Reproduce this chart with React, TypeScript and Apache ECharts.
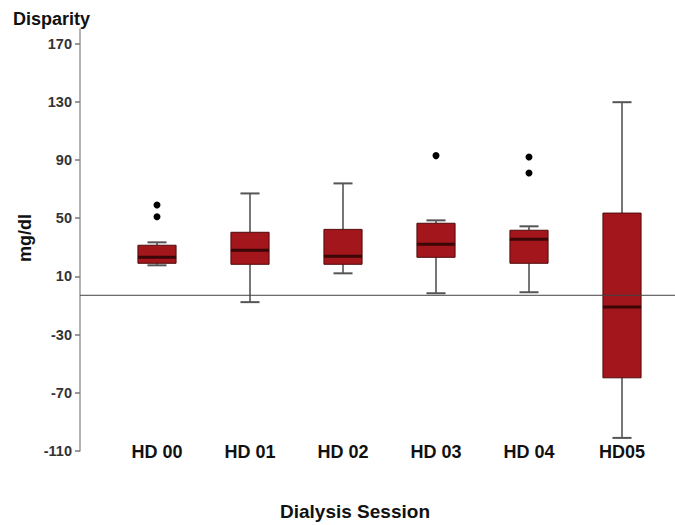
import React, { useEffect, useRef } from "react";
import * as echarts from "echarts";

const categories = ["HD 00", "HD 01", "HD 02", "HD 03", "HD 04", "HD05"];
const whiskerLow = [17.6, -7.7, 12.1, -1.6, -0.9, -101];
const quartile1 = [19.0, 18.3, 18.3, 23.1, 19.0, -59.7];
const medians = [23.1, 27.9, 23.8, 32.0, 35.5, -11.0];
const quartile3 = [31.4, 40.3, 42.3, 46.5, 41.7, 53.5];
const whiskerHigh = [33.4, 67.0, 73.9, 48.5, 44.4, 129.7];
const outliers: [number, number][] = [
  [0, 59],
  [0, 51],
  [3, 93],
  [4, 92],
  [4, 81],
];
const yTicks = [-110, -70, -30, 10, 50, 90, 130, 170];
const yMin = -110;
const yMax = 180;
const referenceValue = -3;

const FONT = "'Liberation Sans', Arial, Helvetica, sans-serif";

export default function App() {
  const ref = useRef<HTMLDivElement>(null);
  useEffect(() => {
    if (!ref.current) return;
    const chart = echarts.init(ref.current, null, { renderer: "svg" });
    const boxData = categories.map((_, i) => [
      i,
      whiskerLow[i],
      quartile1[i],
      medians[i],
      quartile3[i],
      whiskerHigh[i],
    ]);
    const option: any = {
      animation: false,
      backgroundColor: "#ffffff",
      grid: [
        { left: 80, right: 0, top: 29, bottom: 74 },
        { left: 110.5, right: 6.5, top: 29, bottom: 74 },
      ],
      xAxis: [
        {
          type: "value",
          gridIndex: 0,
          min: 0,
          max: 1,
          show: false,
        },
        {
          type: "category",
          gridIndex: 1,
          data: categories,
          boundaryGap: true,
          axisLine: { show: false },
          axisTick: { show: false },
          splitLine: { show: false },
          axisLabel: {
            margin: -8,
            color: "#111",
            fontSize: 18,
            fontWeight: "bold",
            fontFamily: FONT,
          },
        },
      ],
      yAxis: [
        {
          type: "value",
          gridIndex: 0,
          min: yMin,
          max: yMax,
          axisLine: { show: true, lineStyle: { color: "#9a9a9a", width: 1.5 } },
          axisTick: {
            show: true,
            length: 5,
            customValues: yTicks,
            lineStyle: { color: "#777", width: 1.5 },
          },
          splitLine: { show: false },
          axisLabel: {
            customValues: yTicks,
            margin: 8,
            color: "#333",
            fontSize: 14.5,
            fontWeight: "bold",
            fontFamily: FONT,
          },
        },
        {
          type: "value",
          gridIndex: 1,
          min: yMin,
          max: yMax,
          show: false,
          splitLine: { show: false },
        },
      ],
      series: [
        {
          type: "custom",
          xAxisIndex: 1,
          yAxisIndex: 1,
          z: 2,
          data: boxData,
          encode: { x: 0, y: [1, 2, 3, 4, 5] },
          renderItem: (params: any, api: any) => {
            const idx = api.value(0);
            const lo = api.coord([idx, api.value(1)]);
            const q1 = api.coord([idx, api.value(2)]);
            const med = api.coord([idx, api.value(3)]);
            const q3 = api.coord([idx, api.value(4)]);
            const hi = api.coord([idx, api.value(5)]);
            const band = api.size([1, 0])[0];
            const bw = band * 0.41;
            const cw = bw / 2;
            const x = lo[0];
            const whisk = { stroke: "#555", lineWidth: 1.6 };
            return {
              type: "group",
              children: [
                { type: "line", shape: { x1: x, y1: hi[1], x2: x, y2: q3[1] }, style: whisk },
                { type: "line", shape: { x1: x, y1: q1[1], x2: x, y2: lo[1] }, style: whisk },
                { type: "line", shape: { x1: x - cw / 2, y1: hi[1], x2: x + cw / 2, y2: hi[1] }, style: { stroke: "#555", lineWidth: 2 } },
                { type: "line", shape: { x1: x - cw / 2, y1: lo[1], x2: x + cw / 2, y2: lo[1] }, style: { stroke: "#555", lineWidth: 2 } },
                {
                  type: "rect",
                  shape: { x: x - bw / 2, y: q3[1], width: bw, height: q1[1] - q3[1] },
                  style: { fill: "#a3161c", stroke: "#4e0b0b", lineWidth: 1 },
                },
                {
                  type: "line",
                  shape: { x1: x - bw / 2, y1: med[1], x2: x + bw / 2, y2: med[1] },
                  style: { stroke: "#3a0606", lineWidth: 3 },
                },
              ],
            };
          },
        },
        {
          type: "scatter",
          xAxisIndex: 1,
          yAxisIndex: 1,
          z: 3,
          symbol: "circle",
          symbolSize: 7,
          itemStyle: { color: "#000", opacity: 1 },
          data: outliers,
        },
        {
          type: "line",
          xAxisIndex: 0,
          yAxisIndex: 0,
          z: 5,
          symbol: "none",
          lineStyle: { color: "#444", width: 1 },
          data: [
            [0, referenceValue],
            [1, referenceValue],
          ],
        },
      ],
      graphic: [
        {
          type: "text",
          x: 13,
          y: 10,
          style: {
            text: "Disparity",
            font: `bold 18px ${FONT}`,
            fill: "#111",
            textAlign: "left",
            textVerticalAlign: "top",
          },
        },
        {
          type: "text",
          x: 25,
          y: 238,
          rotation: Math.PI / 2,
          style: {
            text: "mg/dl",
            font: `bold 18px ${FONT}`,
            fill: "#111",
            textAlign: "center",
            textVerticalAlign: "middle",
          },
        },
        {
          type: "text",
          x: 355,
          y: 511,
          style: {
            text: "Dialysis Session",
            font: `bold 19px ${FONT}`,
            fill: "#111",
            textAlign: "center",
            textVerticalAlign: "middle",
          },
        },
      ],
    };
    chart.setOption(option);
    return () => chart.dispose();
  }, []);
  return (
    <div
      ref={ref}
      style={{ position: "absolute", left: 0, top: 0, width: 675, height: 525 }}
    />
  );
}
